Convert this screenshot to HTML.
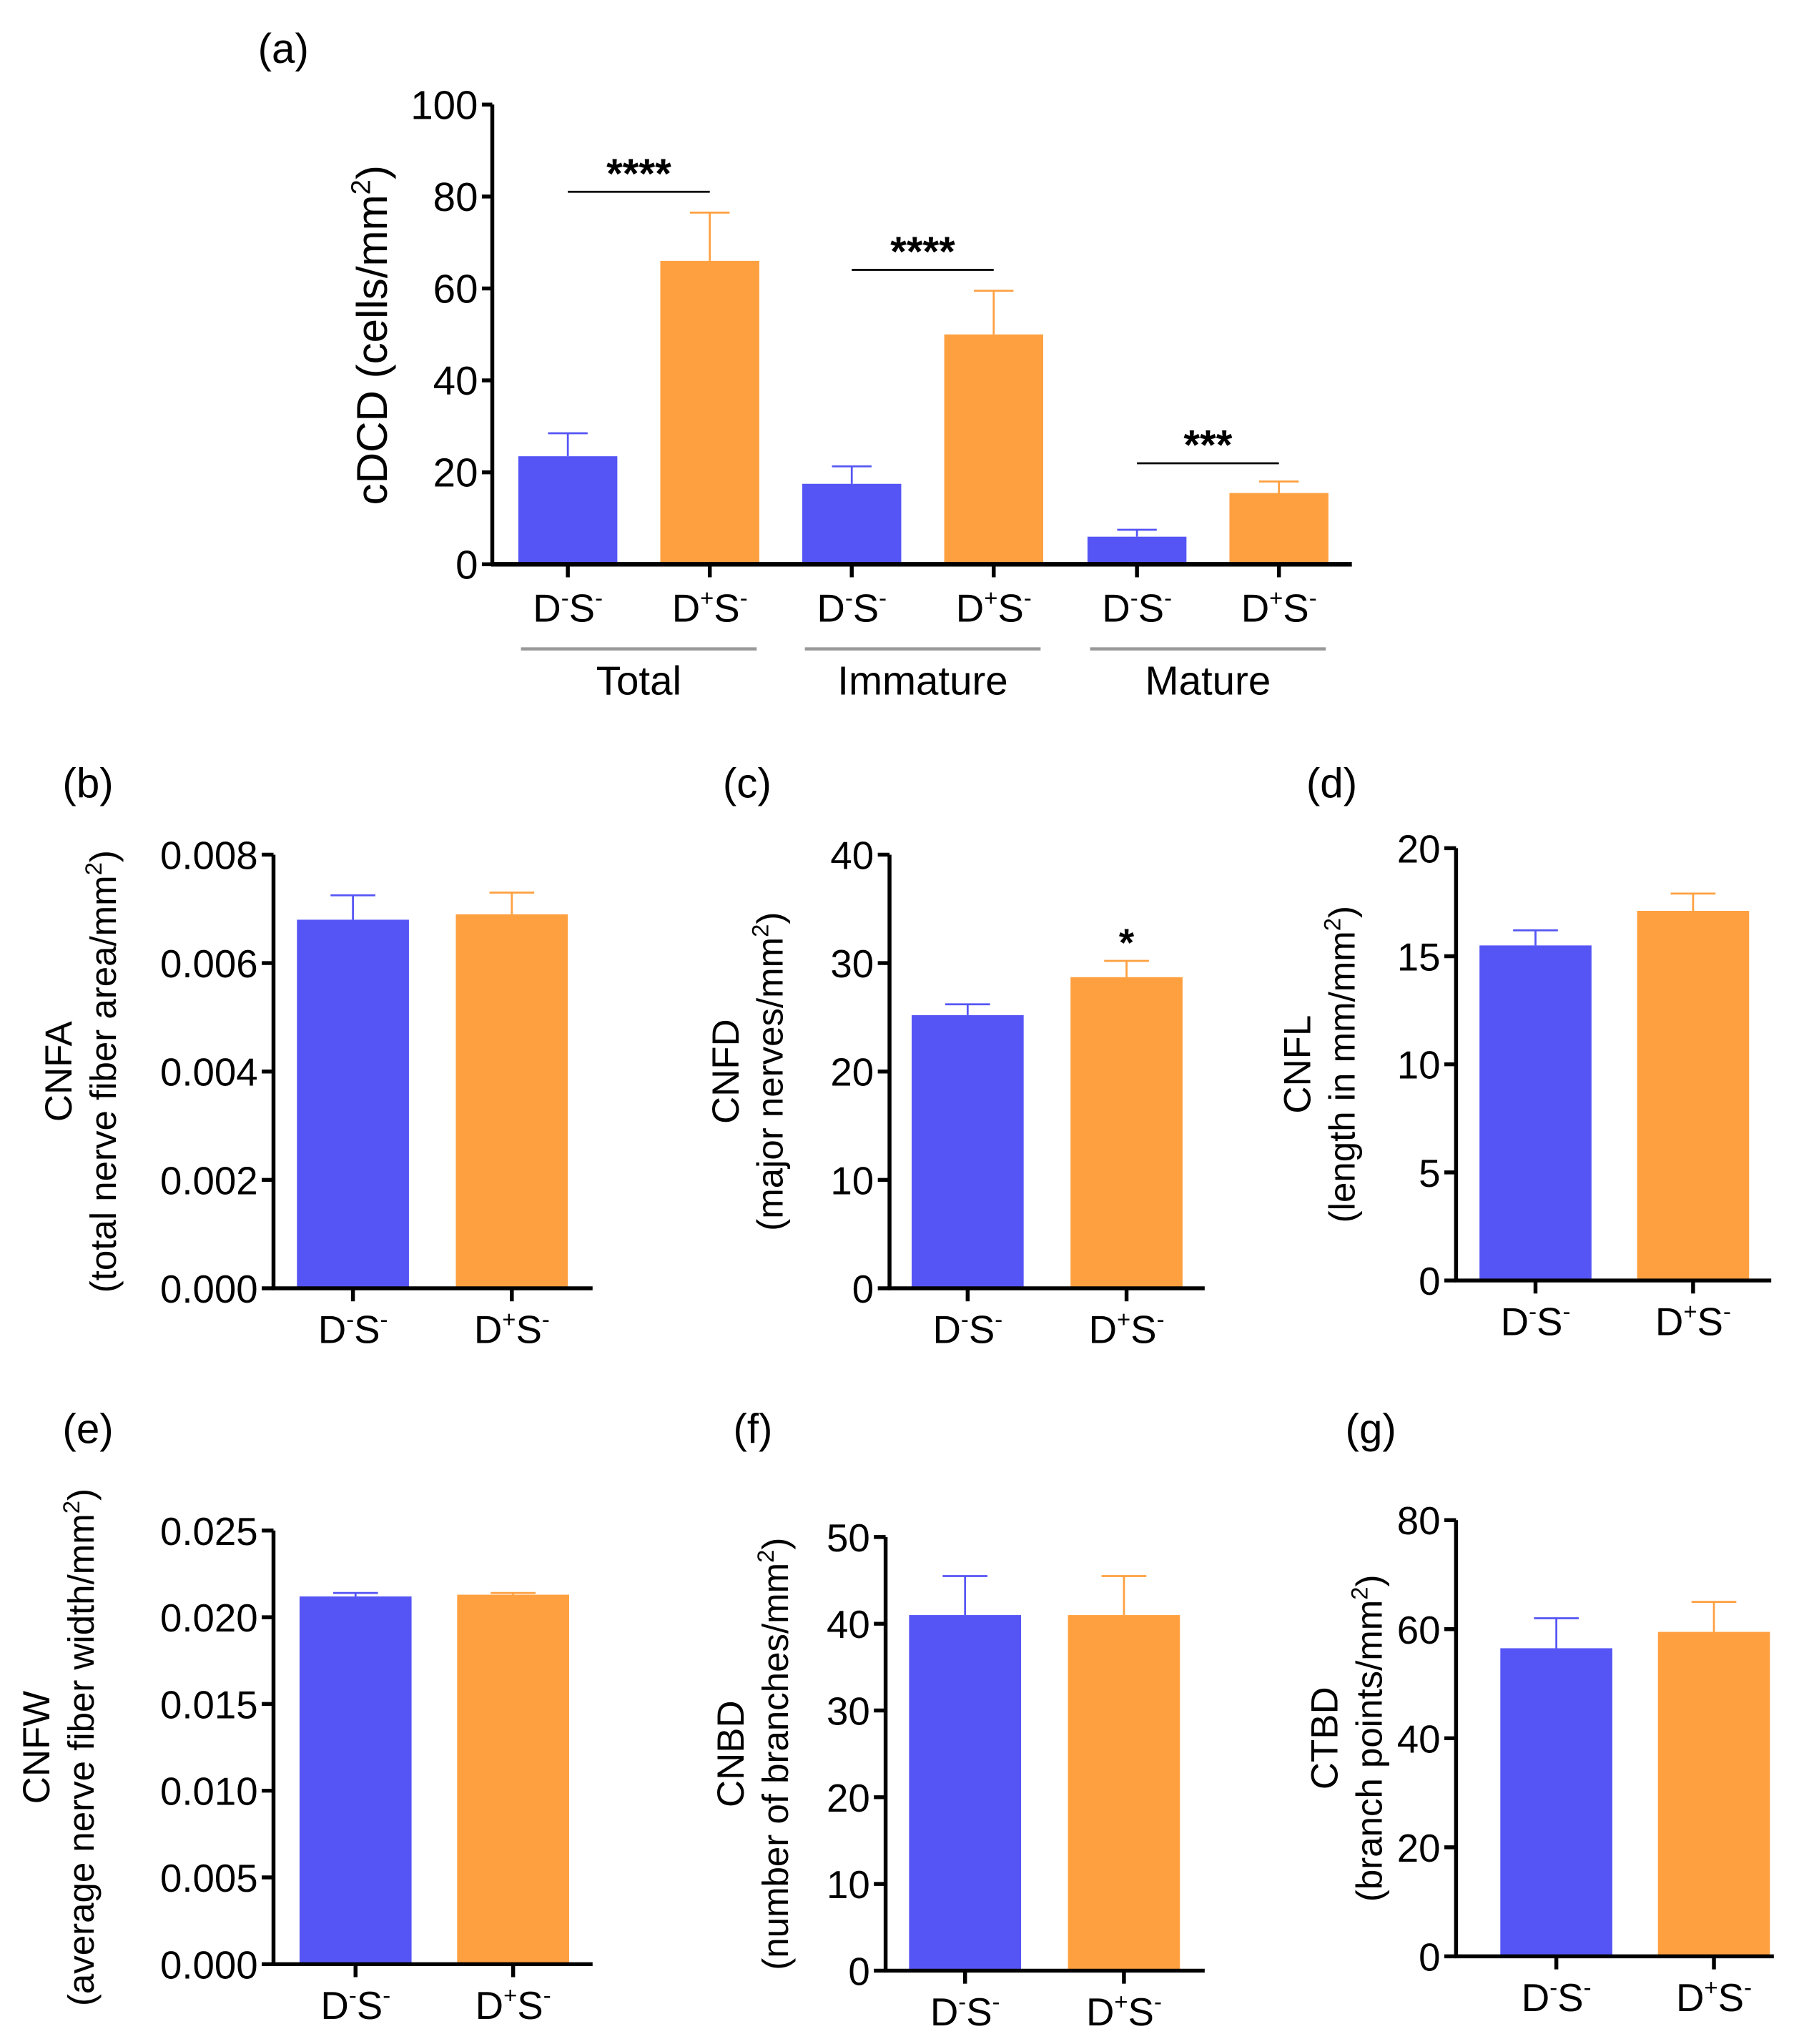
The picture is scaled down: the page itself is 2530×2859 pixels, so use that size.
<!DOCTYPE html>
<html><head><meta charset="utf-8"><style>
html,body{margin:0;padding:0;background:#fff}
svg{display:block;font-family:"Liberation Sans",sans-serif}
</style></head><body>
<svg id="fig" width="2530" height="2859" viewBox="0 0 1389 1569" xmlns="http://www.w3.org/2000/svg"></svg>
<script>
const BLUE = "#5555f5", ORANGE = "#ffa040";
// Panel a data
const aCategories = ["D-S- Total","D+S- Total","D-S- Immature","D+S- Immature","D-S- Mature","D+S- Mature"];
const aValues = [23.5, 66, 17.5, 50, 6, 15.5];
const aErrors = [28.5, 76.5, 21.3, 59.5, 7.5, 18];
const aTicks = [0, 20, 40, 60, 80, 100];
const aGroups = ["Total", "Immature", "Mature"];
const aSig = ["****", "****", "***"];
// Small panels data
const bValues = [0.0068, 0.0069]; const bErrors = [0.00725, 0.0073]; const bTicks = [0, 0.002, 0.004, 0.006, 0.008];
const cValues = [25.2, 28.7]; const cErrors = [26.2, 30.2]; const cTicks = [0, 10, 20, 30, 40];
const dValues = [15.5, 17.1]; const dErrors = [16.2, 17.9]; const dTicks = [0, 5, 10, 15, 20];
const eValues = [0.0212, 0.0213]; const eErrors = [0.0214, 0.0214]; const eTicks = [0, 0.005, 0.01, 0.015, 0.02, 0.025];
const fValues = [41, 41]; const fErrors = [45.5, 45.5]; const fTicks = [0, 10, 20, 30, 40, 50];
const gValues = [56.5, 59.5]; const gErrors = [62, 65]; const gTicks = [0, 20, 40, 60, 80];

const svg = document.getElementById('fig');
const NS = "http://www.w3.org/2000/svg";
function mk(tag, attrs, parent, text){
  const e = document.createElementNS(NS, tag);
  for (const k in attrs) e.setAttribute(k, attrs[k]);
  if (text !== undefined) e.textContent = text;
  (parent || svg).appendChild(e); return e;
}
function dsLabel(g, x, y, plus, size){
  const t = mk('text', {x:x, y:y, 'text-anchor':'middle', 'font-size':size}, g);
  
  
  const a = document.createElementNS(NS,'tspan'); a.textContent='D'; t.appendChild(a);
  const b = document.createElementNS(NS,'tspan'); b.setAttribute('dy', -size*0.4); b.setAttribute('font-size', size*0.6); b.textContent = plus ? '+' : '-'; t.appendChild(b);
  const c = document.createElementNS(NS,'tspan'); c.setAttribute('dy', size*0.4); c.textContent='S'; t.appendChild(c);
  const d = document.createElementNS(NS,'tspan'); d.setAttribute('dy', -size*0.4); d.setAttribute('font-size', size*0.6); d.textContent='-'; t.appendChild(d);
}
function fmt(v, dec){ return v.toFixed(dec); }

function bars(g, xs, bw, vals, errs, yf, y0){
  vals.forEach((v, i) => {
    const col = i % 2 === 0 ? BLUE : ORANGE;
    const x = xs[i];
    const r = mk('rect', {x:x, y:yf(v), width:bw, height:y0 - yf(v), fill:col}, g);
    
    
    const cx = x + bw/2;
    const l1 = mk('line', {x1:cx, x2:cx, y1:yf(v), y2:yf(errs[i]), stroke:col, 'stroke-width':1.5}, g);
    
    
    const l2 = mk('line', {x1:cx - bw*0.2, x2:cx + bw*0.2, y1:yf(errs[i]), y2:yf(errs[i]), stroke:col, 'stroke-width':1.5}, g);
    
    
  });
}

// Panel a
(function(){
  const g = mk('g', {});  
  const ax = 378, y0 = 433, yTop = 80, vmax = 100;
  const yf = v => y0 - (v / vmax) * (y0 - yTop);
  mk('text', {x:198, y:48, 'font-size':32}, g, '(a)');
  const xs = [398, 507, 616, 725, 835, 944], bw = 76;
  bars(g, xs, bw, aValues, aErrors, yf, y0);
  mk('line', {x1:ax, x2:ax, y1:yTop, y2:y0+1, stroke:'#000', 'stroke-width':3}, g);
  mk('line', {x1:ax-1, x2:1038, y1:y0, y2:y0, stroke:'#000', 'stroke-width':3.5}, g);
  aTicks.forEach(t => {
    mk('line', {x1:ax-8, x2:ax, y1:yf(t), y2:yf(t), stroke:'#000', 'stroke-width':3}, g);
    const tl = mk('text', {x:ax-11, y:yf(t)+11, 'text-anchor':'end', 'font-size':31}, g, String(t));
     
  });
  xs.forEach((x, i) => {
    mk('line', {x1:x+bw/2, x2:x+bw/2, y1:y0, y2:y0+10, stroke:'#000', 'stroke-width':3}, g);
    dsLabel(g, x+bw/2, 477, i % 2 === 1, 30);
  });
  const yl = mk('text', {x:0, y:0, 'text-anchor':'middle', 'font-size':33, transform:'translate(297,257) rotate(-90)'}, g);
  
  yl.innerHTML = 'cDCD (cells/mm<tspan dy="-13" font-size="21">2</tspan><tspan dy="13">)</tspan>';
  const sigOff = [22, 22, 20];
  aGroups.forEach((name, k) => {
    const x1 = xs[2*k] + 2, x2 = xs[2*k+1] + bw - 2;
    mk('line', {x1:x1, x2:x2, y1:498, y2:498, stroke:'#999', 'stroke-width':2.5}, g);
    const gl = mk('text', {x:(x1+x2)/2, y:533, 'text-anchor':'middle', 'font-size':31}, g, name);
     
    const c1 = xs[2*k] + bw/2, c2 = xs[2*k+1] + bw/2;
    const ly = yf(aErrors[2*k+1]) - sigOff[k] + (k===2 ? 6 : 6);
    mk('line', {x1:c1, x2:c2, y1:ly, y2:ly, stroke:'#000', 'stroke-width':1.5}, g);
    const st = mk('text', {x:(c1+c2)/2, y:ly-3, 'text-anchor':'middle', 'font-size':32, 'font-weight':'bold'}, g, aSig[k]);
     
  });
})();

function small(cfg){
  const g = mk('g', {});  
  const {ax, y0, yTop, xEnd, ticks, vals, errs, dec} = cfg;
  const vmax = ticks[ticks.length-1];
  const yf = v => y0 - (v / vmax) * (y0 - yTop);
  mk('text', {x:cfg.lx, y:cfg.ly, 'font-size':32}, g, '(' + cfg.id + ')');
  const xs = [ax + cfg.off1, ax + cfg.off2], bw = 86;
  bars(g, xs, bw, vals, errs, yf, y0);
  mk('line', {x1:ax, x2:ax, y1:yTop, y2:y0+1, stroke:'#000', 'stroke-width':3}, g);
  mk('line', {x1:ax-1, x2:xEnd, y1:y0, y2:y0, stroke:'#000', 'stroke-width':3}, g);
  ticks.forEach(t => {
    mk('line', {x1:ax-9, x2:ax, y1:yf(t), y2:yf(t), stroke:'#000', 'stroke-width':3}, g);
    const tl = mk('text', {x:ax-12, y:yf(t)+11, 'text-anchor':'end', 'font-size':30}, g, fmt(t, dec));
     
  });
  xs.forEach((x, i) => {
    mk('line', {x1:x+bw/2, x2:x+bw/2, y1:y0, y2:y0+10, stroke:'#000', 'stroke-width':3}, g);
    dsLabel(g, x+bw/2, y0+42, i === 1, 30);
  });
  const cy = (y0 + yTop) / 2;
  const t1 = mk('text', {x:0, y:0, 'text-anchor':'middle', 'font-size':29, transform:`translate(${cfg.t1x},${cy}) rotate(-90)`}, g, cfg.title);
   
  const t2 = mk('text', {x:0, y:0, 'text-anchor':'middle', 'font-size':28, transform:`translate(${cfg.t1x+34},${cy}) rotate(-90)`}, g);
   
  t2.innerHTML = '(' + cfg.sub + '<tspan dy="-11" font-size="18">2</tspan><tspan dy="11">)</tspan>';
  if (cfg.star) {
    const s = mk('text', {x:xs[1]+bw/2, y:yf(errs[1]) - 4, 'text-anchor':'middle', 'font-size':30, 'font-weight':'bold'}, g, '*');
     
  }
}
small({id:'b', ax:210, y0:989, yTop:656, xEnd:455, ticks:bTicks, vals:bValues, errs:bErrors, dec:3, off1:18, off2:140, lx:48, ly:612, t1x:55, title:'CNFA', sub:'total nerve fiber area/mm'});
small({id:'c', ax:683, y0:989, yTop:656, xEnd:925, ticks:cTicks, vals:cValues, errs:cErrors, dec:0, off1:17, off2:139, lx:555, ly:612, t1x:567, title:'CNFD', sub:'major nerves/mm', star:true});
small({id:'d', ax:1118, y0:983, yTop:651, xEnd:1360, ticks:dTicks, vals:dValues, errs:dErrors, dec:0, off1:18, off2:139, lx:1003, ly:612, t1x:1006, title:'CNFL', sub:'length in mm/mm'});
small({id:'e', ax:210, y0:1508, yTop:1175, xEnd:455, ticks:eTicks, vals:eValues, errs:eErrors, dec:3, off1:20, off2:141, lx:48, ly:1108, t1x:38, title:'CNFW', sub:'average nerve fiber width/mm'});
small({id:'f', ax:680, y0:1513, yTop:1180, xEnd:925, ticks:fTicks, vals:fValues, errs:fErrors, dec:0, off1:18, off2:140, lx:563, ly:1108, t1x:571, title:'CNBD', sub:'number of branches/mm'});
small({id:'g', ax:1118, y0:1502, yTop:1167, xEnd:1362, ticks:gTicks, vals:gValues, errs:gErrors, dec:0, off1:34, off2:155, lx:1033, ly:1108, t1x:1027, title:'CTBD', sub:'branch points/mm'});
</script>
</body></html>
